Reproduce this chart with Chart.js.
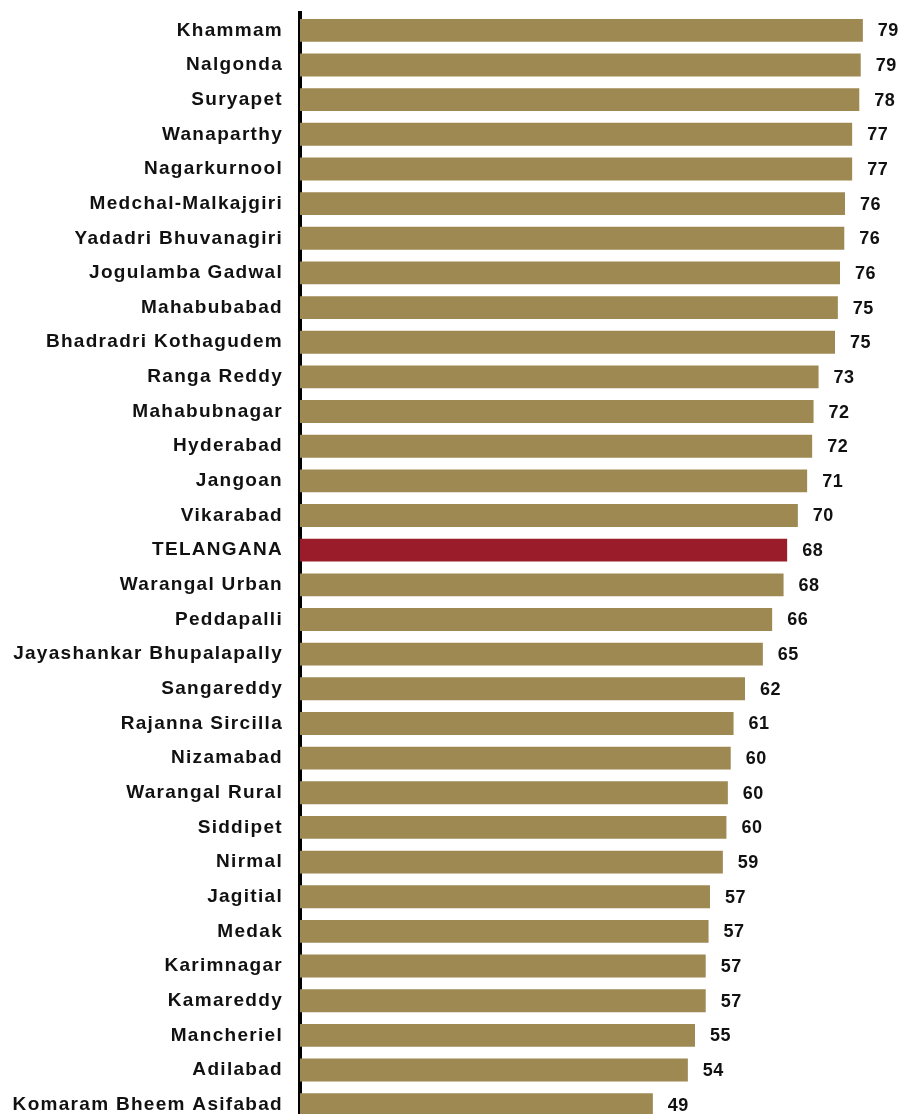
<!DOCTYPE html>
<html>
<head>
<meta charset="utf-8">
<script src="https://cdn.jsdelivr.net/npm/chart.js@4/dist/chart.umd.min.js"></script>
<style>
    html, body { margin: 0; padding: 0; background: #fff; overflow: hidden; }
    #wrap { position: relative; width: 900px; height: 1122px; }
</style>
</head>
<body>
<div id="wrap"><canvas id="chart"></canvas></div>
<script>
const districts = [
    'Khammam', 'Nalgonda', 'Suryapet', 'Wanaparthy', 'Nagarkurnool',
    'Medchal-Malkajgiri', 'Yadadri Bhuvanagiri', 'Jogulamba Gadwal', 'Mahabubabad',
    'Bhadradri Kothagudem', 'Ranga Reddy', 'Mahabubnagar', 'Hyderabad', 'Jangoan',
    'Vikarabad', 'TELANGANA', 'Warangal Urban', 'Peddapalli', 'Jayashankar Bhupalapally',
    'Sangareddy', 'Rajanna Sircilla', 'Nizamabad', 'Warangal Rural', 'Siddipet',
    'Nirmal', 'Jagitial', 'Medak', 'Karimnagar', 'Kamareddy', 'Mancheriel',
    'Adilabad', 'Komaram Bheem Asifabad'
]

// bar lengths, printed labels are these rounded
const scores = [
    78.8, 78.5, 78.3, 77.3, 77.3, 76.3, 76.2, 75.6, 75.3, 74.9,
    72.6, 71.9, 71.7, 71.0, 69.7, 68.2, 67.7, 66.1, 64.8, 62.3,
    60.7, 60.3, 59.9, 59.7, 59.2, 57.4, 57.2, 56.8, 56.8, 55.3,
    54.3, 49.4
]

const stateName = 'TELANGANA'
const barColor = '#9f8953'
const stateColor = '#9a1b29'
const textFont = "'Liberation Sans', Arial, sans-serif"

const valueLabels = {
    id: 'valueLabels',
    afterDatasetsDraw(chart) {
        const ctx = chart.ctx
        const meta = chart.getDatasetMeta(0)
        ctx.save()
        ctx.letterSpacing = '0.5px'
        ctx.font = `bold 18px ${textFont}`
        ctx.fillStyle = '#111'
        ctx.textAlign = 'left'
        ctx.textBaseline = 'middle'
        meta.data.forEach((bar, i) => {
            ctx.fillText(String(Math.round(scores[i])), bar.x + 15, bar.y + 1)
        })
        ctx.restore()
    }
}

const spacing = {
    id: 'spacing',
    beforeDraw(chart) {
        chart.ctx.letterSpacing = '1.3px'
    }
}

new Chart(document.getElementById('chart'), {
    type: 'bar',
    data: {
        labels: districts,
        datasets: [{
            data: scores,
            backgroundColor: districts.map(d => d === stateName ? stateColor : barColor),
            borderWidth: 0,
            categoryPercentage: 0.66,
            barPercentage: 1
        }]
    },
    options: {
        indexAxis: 'y',
        responsive: true,
        maintainAspectRatio: false,
        animation: false,
        layout: { padding: { top: 13, bottom: 0, left: 0, right: 0 } },
        plugins: {
            legend: { display: false },
            tooltip: { enabled: false }
        },
        scales: {
            x: {
                display: false,
                min: 0,
                max: 84
            },
            y: {
                z: 1,
                afterFit: scale => {
                    scale.width = 300
                    scale.paddingTop = 0
                    scale.paddingBottom = 0
                },
                grid: { display: false, drawTicks: false },
                border: { display: true, color: '#000', width: 4 },
                ticks: {
                    color: '#111',
                    padding: 17,
                    font: { family: textFont, size: 19, weight: 'bold' }
                }
            }
        }
    },
    plugins: [spacing, valueLabels]
})
</script>
</body>
</html>
